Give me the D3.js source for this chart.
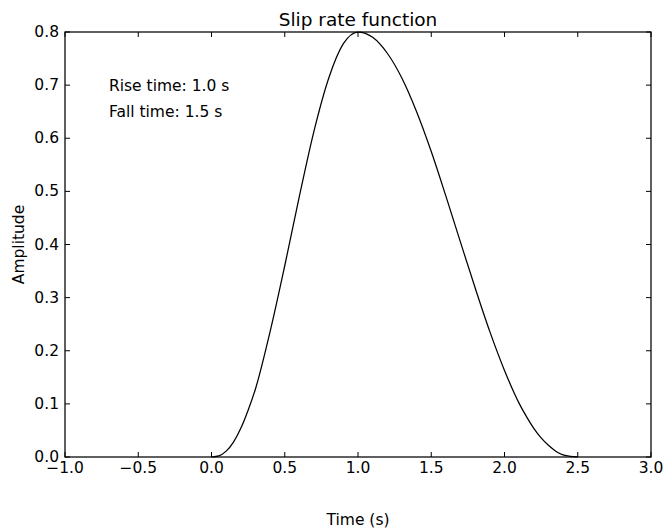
<!DOCTYPE html>
<html lang="en">
<head>
    <meta charset="UTF-8">
    <title>Slip rate function</title>
    <style>
        body {
            margin: 0;
            padding: 0;
            background-color: #ffffff;
        }

        svg text {
            font-family: 'DejaVu Sans', sans-serif;
            fill: #000;
        }

        .tick-label {
            font-size: 15.5px;
        }

        .axis-label {
            font-size: 15.5px;
        }

        .title {
            font-size: 18.5px;
        }

        .note {
            font-size: 15.5px;
        }
    </style>
</head>
<body>
    <div id="chart"></div>

    <script src="https://d3js.org/d3.v7.min.js"></script>
    <script>
        // values (denser near the tails)
        const timeValues = [0.0, 0.05, 0.1, 0.15, 0.2, 0.25, 0.3, 0.4, 0.5, 0.6, 0.7, 0.8, 0.9, 1.0,
            1.1, 1.2, 1.3, 1.4, 1.5, 1.6, 1.7, 1.8, 1.9, 2.0, 2.1, 2.15, 2.2, 2.25, 2.3, 2.35, 2.4, 2.45, 2.5];
        const amplitudeValues = [0.000, 0.002, 0.011, 0.028, 0.054, 0.088, 0.128, 0.236, 0.360, 0.491, 0.614, 0.713, 0.778, 0.800,
            0.790, 0.760, 0.713, 0.650, 0.575, 0.491, 0.404, 0.318, 0.236, 0.163, 0.101, 0.076, 0.054, 0.036, 0.022, 0.011, 0.004, 0.001, 0.000];

        const xTicks = [-1.0, -0.5, 0.0, 0.5, 1.0, 1.5, 2.0, 2.5, 3.0];
        const yTicks = [0.0, 0.1, 0.2, 0.3, 0.4, 0.5, 0.6, 0.7, 0.8];

        const notes = [
            { text: "Rise time: 1.0 s", x: -0.7, y: 0.70 },
            { text: "Fall time: 1.5 s", x: -0.7, y: 0.65 }
        ];

        const totalWidth = 664;
        const totalHeight = 530;
        const margin = { top: 32, right: 13, bottom: 73, left: 65 };
        const width = totalWidth - margin.left - margin.right;
        const height = totalHeight - margin.top - margin.bottom;
        const tickLen = 5;

        const data = timeValues.map((t, i) => ({ t: t, a: amplitudeValues[i] }));

        const root = d3.select("#chart").append("svg")
            .attr("width", totalWidth)
            .attr("height", totalHeight)
            .style("background", "#fff");

        const svg = root.append("g")
            .attr("transform", `translate(${margin.left},${margin.top})`);

        const x = d3.scaleLinear()
            .domain([-1, 3])
            .range([0, width]);

        const y = d3.scaleLinear()
            .domain([0, 0.8])
            .range([height, 0]);

        const fmt = d3.format(".1f");

        // curve
        const line = d3.line()
            .x(d => x(d.t))
            .y(d => y(d.a))
            .curve(d3.curveMonotoneX);

        svg.append("path")
            .datum(data)
            .attr("fill", "none")
            .attr("stroke", "#000")
            .attr("stroke-width", 1.25)
            .attr("d", line);

        // ticks on all four sides, pointing inward (classic style)
        const ticks = svg.append("g")
            .attr("stroke", "#000")
            .attr("stroke-width", 1);

        xTicks.forEach(v => {
            ticks.append("line")
                .attr("x1", x(v)).attr("x2", x(v))
                .attr("y1", height).attr("y2", height - tickLen);
            ticks.append("line")
                .attr("x1", x(v)).attr("x2", x(v))
                .attr("y1", 0).attr("y2", tickLen);
        });

        yTicks.forEach(v => {
            ticks.append("line")
                .attr("x1", 0).attr("x2", tickLen)
                .attr("y1", y(v)).attr("y2", y(v));
            ticks.append("line")
                .attr("x1", width).attr("x2", width - tickLen)
                .attr("y1", y(v)).attr("y2", y(v));
        });

        // frame
        svg.append("rect")
            .attr("x", 0)
            .attr("y", 0)
            .attr("width", width)
            .attr("height", height)
            .attr("fill", "none")
            .attr("stroke", "#000")
            .attr("stroke-width", 1.25);

        // tick labels
        svg.selectAll(".x-tick-label")
            .data(xTicks)
            .enter().append("text")
            .attr("class", "tick-label")
            .attr("x", d => x(d))
            .attr("y", height + 16)
            .attr("text-anchor", "middle")
            .text(d => fmt(d));

        svg.selectAll(".y-tick-label")
            .data(yTicks)
            .enter().append("text")
            .attr("class", "tick-label")
            .attr("x", -6)
            .attr("y", d => y(d) + 5)
            .attr("text-anchor", "end")
            .text(d => fmt(d));

        // notes
        svg.selectAll(".note")
            .data(notes)
            .enter().append("text")
            .attr("class", "note")
            .attr("x", d => x(d.x))
            .attr("y", d => y(d.y) + 5.5)
            .text(d => d.text);

        // title and axis labels
        svg.append("text")
            .attr("class", "title")
            .attr("x", width / 2)
            .attr("y", -6)
            .attr("text-anchor", "middle")
            .text("Slip rate function");

        svg.append("text")
            .attr("class", "axis-label")
            .attr("x", width / 2)
            .attr("y", height + 68)
            .attr("text-anchor", "middle")
            .text("Time (s)");

        svg.append("text")
            .attr("class", "axis-label")
            .attr("transform", `translate(-41,${height / 2}) rotate(-90)`)
            .attr("text-anchor", "middle")
            .text("Amplitude");
    </script>
</body>
</html>
